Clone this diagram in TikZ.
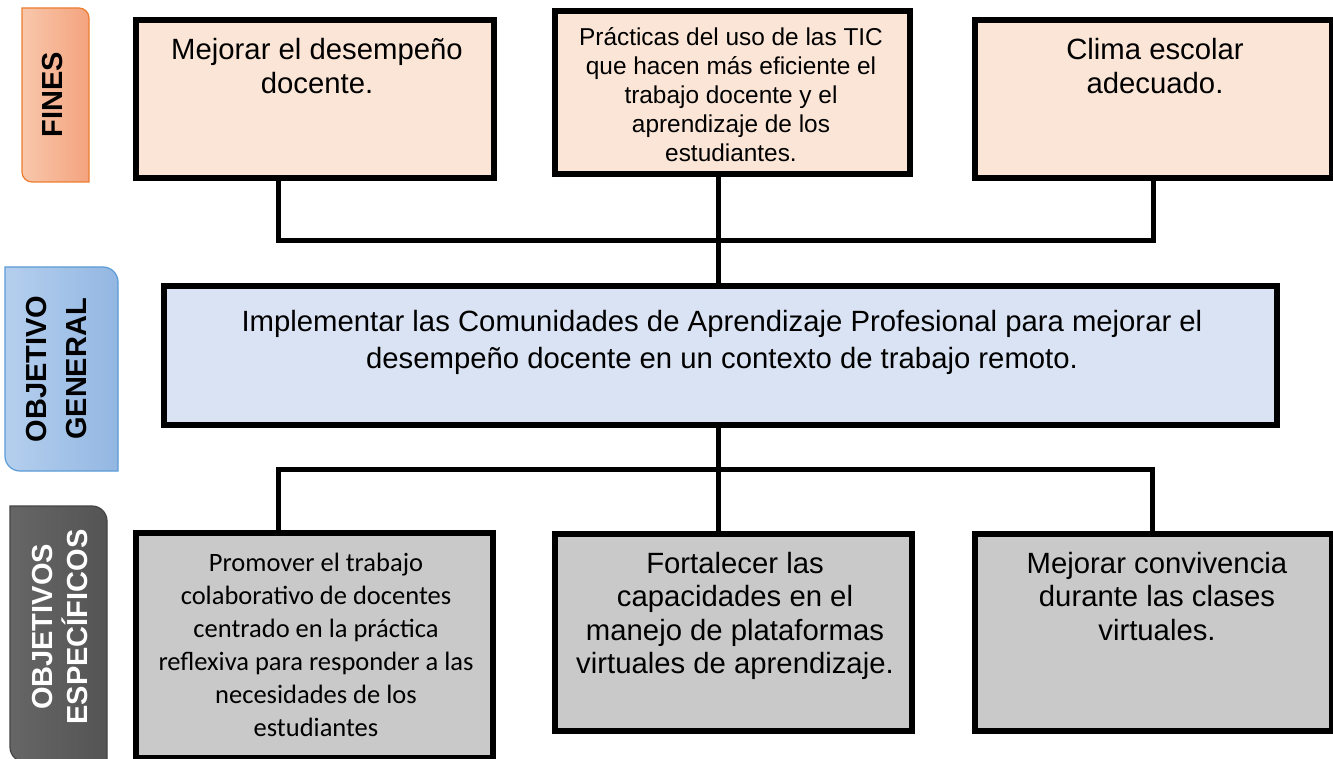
\documentclass[tikz,border=0pt]{standalone}
\usepackage{fontspec}
\setmainfont{Liberation Sans}
\newfontfamily\calibfont{Carlito}
\definecolor{finfill}{HTML}{FBE5D6}
\definecolor{genfill}{HTML}{DAE3F3}
\definecolor{espfill}{HTML}{C9C9C9}
\definecolor{finL}{HTML}{F8C7AB}
\definecolor{finR}{HTML}{F4A37E}
\definecolor{finB}{HTML}{ED7D31}
\definecolor{genL}{HTML}{B5CFEE}
\definecolor{genR}{HTML}{93B7E2}
\definecolor{genB}{HTML}{5B9BD5}
\definecolor{espL}{HTML}{666666}
\definecolor{espR}{HTML}{545454}
\definecolor{espB}{HTML}{444444}
\newcommand{\mytab}[1]{\begin{tabular}[t]{@{}c@{}}#1\end{tabular}}
\tikzset{
  boxbase/.style={draw=black, line width=6pt, outer sep=0pt, inner sep=0pt, anchor=north west},
  finbox/.style={boxbase, fill=finfill},
  genbox/.style={boxbase, fill=genfill},
  espbox/.style={boxbase, fill=espfill},
  conn/.style={draw=black, line width=5pt},
  txt/.style={inner sep=0pt, outer sep=0pt, anchor=base, text=black},
  sidetxt/.style={inner sep=0pt, outer sep=0pt, anchor=base, rotate=90},
}
\begin{document}
\begin{tikzpicture}[x=1pt,y=1pt]
\useasboundingbox (0,0) rectangle (1333,-759);
\clip (0,0) rectangle (1333,-759);
\fill[white] (0,0) rectangle (1333,-759);

% side labels
\path[draw=finB, line width=1.2pt, left color=finL, right color=finR]
  (22,-8) -- (79,-8) arc[start angle=90, end angle=0, radius=10] -- (89,-182) -- (32,-182) arc[start angle=270, end angle=180, radius=10] -- cycle;
\node[sidetxt, font=\fontsize{29}{33}\selectfont\bfseries] (lfin) at (62.4,-95) {FINES};

\path[draw=genB, line width=1.2pt, left color=genL, right color=genR]
  (5,-267) -- (103,-267) arc[start angle=90, end angle=0, radius=15] -- (118,-471) -- (20,-471) arc[start angle=270, end angle=180, radius=15] -- cycle;
\node[sidetxt, font=\fontsize{29}{40}\selectfont\bfseries] (lgen) at (46.4,-369) {\mytab{OBJETIVO\\GENERAL}};

\path[draw=espB, line width=1.2pt, left color=espL, right color=espR]
  (10,-506) -- (92,-506) arc[start angle=90, end angle=0, radius=15] -- (107,-762) -- (25,-762) arc[start angle=270, end angle=180, radius=15] -- cycle;
\node[sidetxt, text=white, font=\fontsize{29}{31.7}\selectfont\bfseries] (lesp) at (52.4,-627) {\mytab{OBJETIVOS\\ESPECÍFICOS}};

% junction coordinates
\coordinate (ja) at (278,-241);
\coordinate (jb) at (1153,-241);
\coordinate (jc) at (718,-241);
\coordinate (jd) at (278,-469);
\coordinate (je) at (1152,-469);
\coordinate (jf) at (718,-469);

% boxes
\node[finbox, minimum width=358, minimum height=158] (f1) at (136,-20) {};
\node[finbox, minimum width=355, minimum height=163] (f2) at (555,-11) {};
\node[finbox, minimum width=357, minimum height=158] (f3) at (975,-20) {};
\node[genbox, minimum width=1113, minimum height=139] (g) at (164,-286) {};
\node[espbox, minimum width=357, minimum height=225] (s1) at (136,-533) {};
\node[espbox, minimum width=357, minimum height=197] (s2) at (555,-534) {};
\node[espbox, minimum width=357, minimum height=197] (s3) at (975,-534) {};

% connectors
\draw[conn] (ja |- f1.south) -- (ja) -- (jb) -- (jb |- f3.south);
\draw[conn] (jc |- f2.south) -- (jc |- g.north);
\draw[conn] (jf |- g.south) -- (jf |- s2.north);
\draw[conn] (jd |- s1.north) -- (jd) -- (je) -- (je |- s3.north);

% texts
\node[txt, font=\fontsize{29.3}{33.5}\selectfont] (f1t) at (317,-60) {\mytab{Mejorar el desempeño\\docente.}};
\node[txt, font=\fontsize{24.4}{29}\selectfont] (f2t) at (731,-46) {\mytab{Prácticas del uso de las TIC\\que hacen más eficiente el\\trabajo docente y el\\aprendizaje de los\\estudiantes.}};
\node[txt, font=\fontsize{29.3}{33.5}\selectfont] (f3t) at (1155,-60) {\mytab{Clima escolar\\adecuado.}};
\node[txt, font=\fontsize{29.3}{37}\selectfont] (gt) at (722,-331) {\mytab{Implementar las Comunidades de Aprendizaje Profesional para mejorar el\\desempeño docente en un contexto de trabajo remoto.}};
\node[txt, font=\calibfont\fontsize{26.5}{33}\selectfont] (s1t) at (316,-571) {\mytab{Promover el trabajo\\colaborativo de docentes\\centrado en la práctica\\reflexiva para responder a las\\necesidades de los\\estudiantes}};
\node[txt, font=\fontsize{29.3}{33.5}\selectfont] (s2t) at (735,-573) {\mytab{Fortalecer las\\capacidades en el\\manejo de plataformas\\virtuales de aprendizaje.}};
\node[txt, font=\fontsize{29.3}{33.5}\selectfont] (s3t) at (1157,-573) {\mytab{Mejorar convivencia\\durante las clases\\virtuales.}};
\end{tikzpicture}
\end{document}
